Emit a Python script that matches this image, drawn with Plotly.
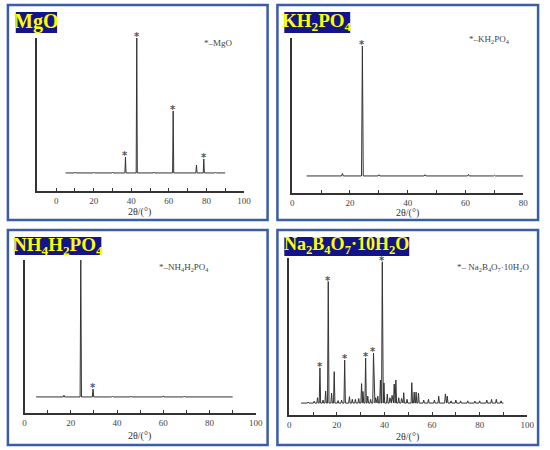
import plotly.graph_objects as go

W, H = 550, 450

# ---------------- data ----------------
# MgO
mgo_range = [5, 90]
mgo_base = 11.8
mgo_pos = [10, 20, 30, 36.9, 42.9, 52, 62.3, 74.7, 78.6, 85]
mgo_int = [12.3, 12.2, 12.3, 22.2, 100, 12.3, 52.3, 17.0, 20.9, 12.2]
mgo_star = [36.9, 42.9, 62.3, 78.6]

# KH2PO4
kdp_range = [5, 80]
kdp_base = 11.0
kdp_pos = [17.4, 24.3, 30.0, 46.0, 61.0, 70.0]
kdp_int = [12.6, 94.8, 11.8, 11.8, 12.0, 11.5]
kdp_star = [24.3]

# NH4H2PO4
adp_range = [5, 90]
adp_base = 10.5
adp_pos = [17.0, 24.3, 29.6, 38.0, 46.0, 60.0, 69.0]
adp_int = [11.6, 100, 15.7, 11.0, 11.0, 11.2, 11.0]
adp_star = [29.6]

# Na2B4O7·10H2O
bor_range = [5, 90]
bor_base = 7.6
bor_pos = [8.0, 10.5, 11.9, 12.9, 14.2, 15.3, 16.4, 17.8, 18.9, 20.5, 22.0, 23.3, 25.3,
           26.5, 27.8, 29.2, 30.4, 31.0, 32.1, 33.0, 34.2, 35.4, 36.3, 37.2, 38.3, 39.1,
           39.8, 41.2, 42.3, 43.2, 44.1, 44.8, 46.0, 47.2, 48.1, 49.5, 51.5, 52.5, 53.3,
           54.3, 56.5, 58.5, 61.0, 62.8, 65.6, 66.4, 68.0, 70.0, 72.0, 75.0, 78.0, 80.0,
           83.0, 85.0, 87.0, 89.0]
bor_int = [8.3, 8.8, 11.0, 30.0, 9.5, 15.3, 85.0, 14.0, 27.6, 9.2, 9.5, 35.0, 11.7,
           10.0, 10.0, 10.5, 20.0, 15.0, 36.3, 12.0, 10.0, 39.5, 11.0, 12.0, 22.3, 97.6,
           20.4, 13.4, 11.0, 12.5, 19.7, 22.3, 11.0, 10.5, 14.2, 10.0, 20.6, 14.6, 14.6,
           13.9, 9.5, 10.0, 9.5, 12.0, 13.4, 12.0, 9.0, 9.5, 9.0, 9.0, 8.8, 9.0,
           9.5, 10.0, 10.0, 9.0]
bor_star = [12.9, 16.4, 23.3, 32.1, 35.4, 39.1]

x_title = "2θ/(°)"

# ---------------- layout geometry (pixels) ----------------
def px(x):
    return x / W


def py(y):
    return 1 - y / H


panels = [
    dict(title="MgO", leg="*–MgO", rng=[-10, 100],
         ax=(36, 246), ay=(38, 191), box=(14, 12, 56, 33), border=(6, 5, 270, 220),
         legxy=(203, 43), xt=(140, 212), fs=20,
         data=(mgo_range, mgo_base, mgo_pos, mgo_int, mgo_star), starc="#555555"),
    dict(title="KH<sub>2</sub>PO<sub>4</sub>", leg="*–KH<sub>2</sub>PO<sub>4</sub>",
         rng=[0, 80],
         ax=(295, 530), ay=(38, 193), box=(287, 12, 354, 33), border=(280, 5, 545, 220),
         legxy=(473, 39), xt=(412, 213), fs=19,
         data=(kdp_range, kdp_base, kdp_pos, kdp_int, kdp_star), starc="#555555"),
    dict(title="NH<sub>4</sub>H<sub>2</sub>PO<sub>4</sub>",
         leg="*–NH<sub>4</sub>H<sub>2</sub>PO<sub>4</sub>", rng=[0, 100],
         ax=(23, 258), ay=(260, 413), box=(13, 237, 101, 255), border=(6, 230, 270, 445),
         legxy=(158, 267), xt=(140, 436), fs=19,
         data=(adp_range, adp_base, adp_pos, adp_int, adp_star), starc="#3a5a9a"),
    dict(title="Na<sub>2</sub>B<sub>4</sub>O<sub>7</sub>·10H<sub>2</sub>O",
         leg="*– Na<sub>2</sub>B<sub>4</sub>O<sub>7</sub>·10H<sub>2</sub>O", rng=[0, 100],
         ax=(292, 534), ay=(258, 415), box=(287, 237, 414, 256), border=(280, 230, 545, 445),
         legxy=(461, 267), xt=(412, 437), fs=18,
         data=(bor_range, bor_base, bor_pos, bor_int, bor_star), starc="#555555"),
]

fig = go.Figure()
shapes = []
annotations = []
serif = "Liberation Serif, Times New Roman, serif"

for i, p in enumerate(panels):
    k = "" if i == 0 else str(i + 1)
    xa, ya = "x" + k, "y" + k
    (xr, base, pos, inten, stars) = p["data"]
    w = 0.3
    xs, ys = [xr[0]], [base]
    for pp, hh in zip(pos, inten):
        xs += [pp - w, pp, pp + w]
        ys += [base, hh, base]
    xs.append(xr[1])
    ys.append(base)
    fig.add_trace(go.Scatter(x=xs, y=ys, mode="lines", xaxis=xa, yaxis=ya,
                             line=dict(color="#333333", width=1), showlegend=False,
                             hoverinfo="skip"))
    for s in stars:
        annotations.append(dict(text="<b>*</b>", xref=xa, yref=ya, x=s,
                                y=inten[pos.index(s)], xanchor="center", yanchor="bottom",
                                yshift=-6, showarrow=False,
                                font=dict(family="DejaVu Sans", size=10, color=p["starc"])))
    fig.layout["xaxis" + k] = dict(
        domain=[px(p["ax"][0]), px(p["ax"][1])], range=p["rng"], anchor=ya,
        showline=True, linecolor="#333333", linewidth=1.5, showgrid=False, zeroline=False,
        ticks="inside", ticklen=3, tickcolor="#333333", tickwidth=1.2,
        tick0=0, dtick=20,
        minor=dict(ticks="inside", ticklen=3, tickcolor="#333333", tickwidth=1.2,
                   tick0=0, dtick=10, showgrid=False),
        tickfont=dict(family=serif, size=9, color="#444444"), fixedrange=True)
    fig.layout["yaxis" + k] = dict(
        domain=[py(p["ay"][1]), py(p["ay"][0])], range=[0, 100], anchor=xa,
        showline=True, linecolor="#333333", linewidth=1.5, showgrid=False, zeroline=False,
        showticklabels=False, ticks="", fixedrange=True)

    bx = p["border"]
    shapes.append(dict(type="rect", xref="paper", yref="paper",
                       x0=px(bx[0]), x1=px(bx[2]), y0=py(bx[3]), y1=py(bx[1]),
                       line=dict(color="#3b5ca6", width=2.5), fillcolor="rgba(0,0,0,0)"))
    b = p["box"]
    shapes.append(dict(type="rect", xref="paper", yref="paper",
                       x0=px(b[0]), x1=px(b[2]), y0=py(b[3]), y1=py(b[1]),
                       line=dict(width=0), fillcolor="#14148a"))
    annotations.append(dict(text="<b>" + p["title"] + "</b>", xref="paper", yref="paper",
                            x=px((b[0] + b[2]) / 2), y=py((b[1] + b[3]) / 2 - 0.5),
                            xanchor="center", yanchor="middle", showarrow=False,
                            font=dict(family=serif, size=p["fs"], color="#ffff00")))
    annotations.append(dict(text=p["leg"], xref="paper", yref="paper",
                            x=px(p["legxy"][0]), y=py(p["legxy"][1]),
                            xanchor="left", yanchor="middle", showarrow=False,
                            font=dict(family=serif, size=9, color="#444444")))
    annotations.append(dict(text=x_title, xref="paper", yref="paper",
                            x=px(p["xt"][0]), y=py(p["xt"][1]),
                            xanchor="center", yanchor="middle", showarrow=False,
                            font=dict(family=serif, size=10, color="#333333")))

fig.update_layout(width=W, height=H, margin=dict(l=0, r=0, t=0, b=0),
                  paper_bgcolor="white", plot_bgcolor="white",
                  shapes=shapes, annotations=annotations, showlegend=False)

fig.write_html("out.html", config={"displayModeBar": False},
               post_script="document.body.style.margin='0';")
